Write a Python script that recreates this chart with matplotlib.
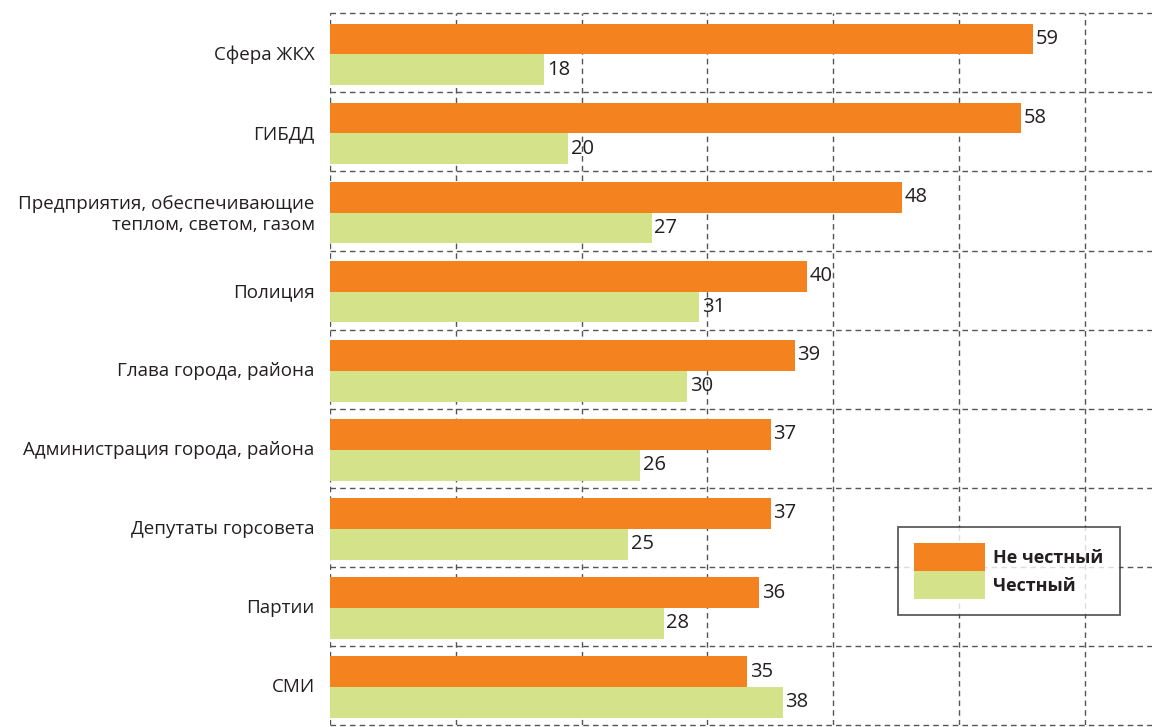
import numpy as np
import matplotlib.pyplot as plt

categories = ['Сфера ЖКХ', 'ГИБДД', 'Предприятия, обеспечивающие\nтеплом, светом, газом',
              'Полиция', 'Глава города, района', 'Администрация города, района',
              'Депутаты горсовета', 'Партии', 'СМИ']
not_honest = [59, 58, 48, 40, 39, 37, 37, 36, 35]
honest = [18, 20, 27, 31, 30, 26, 25, 28, 38]

orange = '#F3821F'
green = '#D4E38A'

plt.rcParams['font.family'] = ['Open Sans', 'DejaVu Sans']

fig = plt.figure(figsize=(11.52, 7.27), dpi=100)
ax = fig.add_axes([330/1152, 1 - 725/727, 1 - 330/1152, (725 - 13.3)/727])

y = np.arange(len(categories)) + 0.02
h = 0.39
b1 = ax.barh(y - h/2, not_honest, height=h, color=orange, label='Не честный', zorder=3)
b2 = ax.barh(y + h/2, honest, height=h, color=green, label='Честный', zorder=3)

ax.bar_label(b1, padding=2, fontsize=14.5, color='#231f20')
ax.bar_label(b2, padding=2, fontsize=14.5, color='#231f20')

ax.set_ylim(len(categories) - 0.5, -0.5)
ax.set_xlim(0, 69)
ax.set_yticks(np.arange(len(categories)))
ax.set_yticklabels(categories, fontsize=13.5, color='#231f20', ha='right')
ax.tick_params(axis='y', length=0, pad=11)
ax.set_xticks([])
for s in ax.spines.values():
    s.set_visible(False)

# dashed grid
for k in range(7):
    ax.axvline(k * 10.56, color='#555555', lw=1.0, ls=(0, (4, 3)), zorder=1)
for k in range(len(categories) + 1):
    ax.axhline(k - 0.5, color='#555555', lw=1.0, ls=(0, (4, 3)), zorder=1, clip_on=False)

leg = fig.legend(loc='upper left', bbox_to_anchor=(898/1152, 1 - 527/727),
                 prop={'weight': 'bold', 'size': 13}, frameon=True, fancybox=False,
                 handlelength=3.93, handleheight=2.0, labelspacing=0,
                 handletextpad=0.45, borderpad=0.9, borderaxespad=0)
leg.get_frame().set_edgecolor('#333333')
leg.get_frame().set_linewidth(1.3)
for t in leg.get_texts():
    t.set_color('#231f20')

fig.savefig('out.png', dpi=100)
